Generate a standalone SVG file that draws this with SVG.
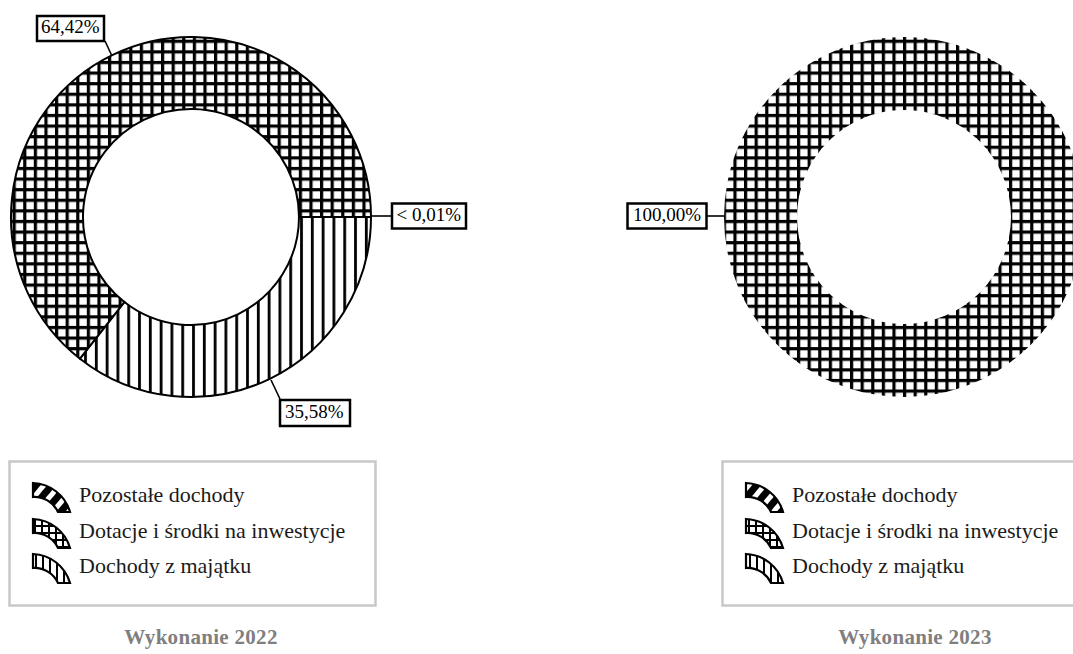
<svg xmlns="http://www.w3.org/2000/svg" width="1073" height="654" viewBox="0 0 1073 654">
<style>
.lbl{font-family:"Liberation Serif","Times New Roman",serif;font-size:19px;fill:#000}
.leg{font-family:"Liberation Serif","Times New Roman",serif;font-size:22px;fill:#1a1a1a}
.ttl{font-family:"Liberation Serif","Times New Roman",serif;font-size:21px;font-weight:bold;fill:#7f7f7f;letter-spacing:0.3px}
.box{fill:#fff;stroke:#000;stroke-width:2.5}
.lead{stroke:#000;stroke-width:1.6;fill:none}
.ring{stroke:#000;stroke-width:2}
.legbox{fill:#fff;stroke:#c8c8c8;stroke-width:2.5}
.ico{stroke:#000;stroke-width:2.2}
</style>
<defs>
<pattern id="grid" patternUnits="userSpaceOnUse" x="2" y="7.9" width="10.6" height="10.6">
<rect width="10.6" height="10.6" fill="#fff"/>
<rect x="0" y="0" width="3.2" height="10.6" fill="#000"/>
<rect x="0" y="0" width="10.6" height="3.2" fill="#000"/>
</pattern>
<pattern id="vert" patternUnits="userSpaceOnUse" x="8.5" y="0" width="10.8" height="10.8">
<rect width="10.8" height="10.8" fill="#fff"/>
<rect x="0" y="0" width="2.8" height="10.8" fill="#000"/>
</pattern>
<pattern id="gridS" patternUnits="userSpaceOnUse" x="34" y="0" width="7" height="7">
<rect width="7" height="7" fill="#fff"/>
<rect x="0" y="0" width="2" height="7" fill="#000"/>
<rect x="0" y="0" width="7" height="2" fill="#000"/>
</pattern>
<pattern id="vertS" patternUnits="userSpaceOnUse" x="35" y="0" width="7" height="7">
<rect width="7" height="7" fill="#fff"/>
<rect x="0" y="0" width="2" height="7" fill="#000"/>
</pattern>
<pattern id="wave" patternUnits="userSpaceOnUse" width="12" height="12" patternTransform="rotate(40)">
<rect width="12" height="12" fill="#fff"/>
<rect x="0" y="0" width="7" height="12" fill="#000"/>
</pattern>
</defs>

<g id="chart-2022">
<path class="ring" fill="url(#vert)" d="M 371 217 A 180 180 0 0 1 79.96 358.68 L 124.37 302.01 A 108 108 0 0 0 299 217 Z"/>
<path class="ring" fill="url(#grid)" d="M 79.96 358.68 A 180 180 0 1 1 371 217 L 299 217 A 108 108 0 1 0 124.37 302.01 Z"/>
</g>

<g id="chart-2023">
<path fill="url(#grid)" fill-rule="evenodd" d="M 1084 217 A 180 180 0 1 1 724 217 A 180 180 0 1 1 1084 217 Z M 1011 217 A 107 107 0 1 0 797 217 A 107 107 0 1 0 1011 217 Z"/>
</g>

<g id="connectors">
<line class="lead" x1="111.5" y1="55" x2="105" y2="41"/>
<line class="lead" x1="371" y1="216" x2="392" y2="216"/>
<line class="lead" x1="271" y1="380" x2="280" y2="399"/>
<line class="lead" x1="724" y1="216" x2="707" y2="216"/>
</g>

<g id="label-6442">
<rect class="box" x="37" y="16" width="67" height="25"/>
<text class="lbl" x="41" y="33">64,42%</text>
</g>
<g id="label-001">
<rect class="box" x="392" y="203.5" width="74" height="25"/>
<text class="lbl" x="396.5" y="221">&lt; 0,01%</text>
</g>
<g id="label-3558">
<rect class="box" x="280" y="400" width="70" height="26"/>
<text class="lbl" x="285" y="417.5">35,58%</text>
</g>
<g id="label-10000">
<rect class="box" x="627.5" y="203.5" width="79" height="25"/>
<text class="lbl" x="633" y="221">100,00%</text>
</g>

<g id="legend-2022">
<rect class="legbox" x="9.5" y="461.5" width="366" height="144"/>
<path class="ico" fill="url(#wave)" d="M 33 483 A 40 40 0 0 1 70 512 L 58 512 A 26 26 0 0 0 33 497 Z"/>
<text class="leg" x="79" y="502">Pozostałe dochody</text>
<path class="ico" fill="url(#gridS)" d="M 33 519 A 40 40 0 0 1 70 548 L 58 548 A 26 26 0 0 0 33 533 Z"/>
<text class="leg" x="79" y="538">Dotacje i środki na inwestycje</text>
<path class="ico" fill="url(#vertS)" d="M 33 554 A 40 40 0 0 1 70 583 L 58 583 A 26 26 0 0 0 33 568 Z"/>
<text class="leg" x="79" y="573">Dochody z majątku</text>
</g>

<g id="legend-2023">
<rect class="legbox" x="722.5" y="461.5" width="366" height="144"/>
<path class="ico" fill="url(#wave)" d="M 746 483 A 40 40 0 0 1 783 512 L 771 512 A 26 26 0 0 0 746 497 Z"/>
<text class="leg" x="792" y="502">Pozostałe dochody</text>
<path class="ico" fill="url(#gridS)" d="M 746 519 A 40 40 0 0 1 783 548 L 771 548 A 26 26 0 0 0 746 533 Z"/>
<text class="leg" x="792" y="538">Dotacje i środki na inwestycje</text>
<path class="ico" fill="url(#vertS)" d="M 746 554 A 40 40 0 0 1 783 583 L 771 583 A 26 26 0 0 0 746 568 Z"/>
<text class="leg" x="792" y="573">Dochody z majątku</text>
</g>

<g id="titles">
<text class="ttl" x="201" y="644" text-anchor="middle">Wykonanie 2022</text>
<text class="ttl" x="915" y="644" text-anchor="middle">Wykonanie 2023</text>
</g>
</svg>
